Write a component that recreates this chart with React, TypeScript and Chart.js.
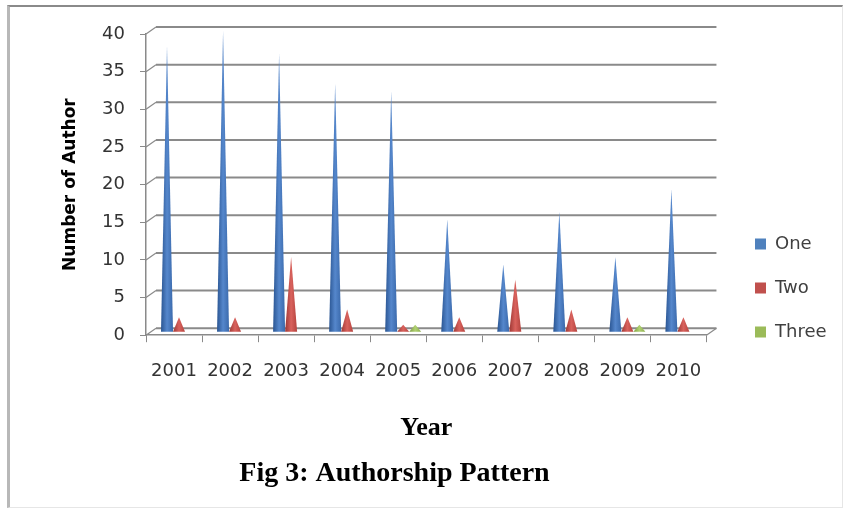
import { useEffect, useRef } from "react";
import { Chart, registerables } from "chart.js";

Chart.register(...registerables);

// ---- data ----
const years = ["2001", "2002", "2003", "2004", "2005", "2006", "2007", "2008", "2009", "2010"];
const seriesNames = ["One", "Two", "Three"];
const oneAuthor = [38, 40, 37, 33, 32, 15, 9, 16, 10, 19];
const twoAuthors = [2, 2, 10, 3, 1, 2, 7, 3, 2, 2];
const threeAuthors = [0, 0, 0, 0, 1, 0, 0, 0, 1, 0];
const yMin = 0;
const yMax = 40;
const yStep = 5;

// ---- styles ----
const seriesColors = ["#4f81bd", "#c0504d", "#9bbb59"];
const coneShades = [
  ["#2a5592", "#5587cc", "#3a69ab"],
  ["#9c3734", "#d9625d", "#b4433e"],
  ["#7a9c3c", "#b0d072", "#8bae4b"],
];
const DEPTH_X = 10;
const DEPTH_Y = 7;
const CONE_DX = 5;
const CONE_DY = 3;

const grid3dPlugin = {
  id: "grid3d",
  beforeDatasetsDraw(chart: any) {
    const { ctx, chartArea } = chart;
    const y = chart.scales.y;
    ctx.save();
    ctx.strokeStyle = "#8a8a8a";
    y.ticks.forEach((t: any) => {
      const py = y.getPixelForValue(t.value);
      ctx.lineWidth = 1.2;
      ctx.beginPath();
      ctx.moveTo(chartArea.left, py);
      ctx.lineTo(chartArea.left + DEPTH_X, py - DEPTH_Y);
      ctx.stroke();
      ctx.lineWidth = 2;
      ctx.beginPath();
      ctx.moveTo(chartArea.left + DEPTH_X, py - DEPTH_Y);
      ctx.lineTo(chartArea.right + DEPTH_X, py - DEPTH_Y);
      ctx.stroke();
    });
    const p0 = y.getPixelForValue(0);
    ctx.lineWidth = 1.2;
    ctx.beginPath();
    ctx.moveTo(chartArea.right, p0);
    ctx.lineTo(chartArea.right + DEPTH_X, p0 - DEPTH_Y);
    ctx.stroke();
    ctx.restore();
  },
};

const conePlugin = {
  id: "cones",
  beforeDatasetDraw(chart: any, args: any) {
    const { ctx } = chart;
    const stops = coneShades[args.index];
    ctx.save();
    args.meta.data.forEach((el: any) => {
      const { x, y, base, width } = el.getProps(["x", "y", "base", "width"], true);
      if (Math.abs(base - y) < 0.5) return;
      const cx = x + CONE_DX;
      const half = width * 0.5;
      const by = base - CONE_DY;
      const ty = y - CONE_DY;
      const g = ctx.createLinearGradient(cx - half, 0, cx + half, 0);
      stops.forEach((c: string, i: number) => g.addColorStop(i / (stops.length - 1), c));
      ctx.fillStyle = g;
      ctx.beginPath();
      ctx.moveTo(cx - half, by);
      ctx.lineTo(cx, ty);
      ctx.lineTo(cx + half, by);
      ctx.closePath();
      ctx.fill();
    });
    ctx.restore();
    return false;
  },
};

const LEGEND_PAD = 26;
const placePlugin = {
  id: "place",
  afterLayout(chart: any) {
    const lg = chart.legend;
    if (lg) {
      const w = lg.width;
      const h = lg.height;
      lg.left = 755 - LEGEND_PAD;
      lg.right = lg.left + w;
      lg.top = 209;
      lg.bottom = lg.top + h;
    }
    const tb = chart.titleBlock;
    if (tb) {
      const w = tb.width;
      tb.left = 394.5 - w / 2;
      tb.right = tb.left + w;
    }
  },
};

export default function App() {
  const ref = useRef<HTMLCanvasElement | null>(null);

  useEffect(() => {
    if (!ref.current) return;
    const values = [oneAuthor, twoAuthors, threeAuthors];
    const chart = new Chart(ref.current, {
      type: "bar",
      data: {
        labels: years,
        datasets: seriesNames.map((name, i) => ({
          label: name,
          data: values[i],
          backgroundColor: seriesColors[i],
          borderWidth: 0,
          categoryPercentage: 0.643,
          barPercentage: 1,
        })),
      },
      plugins: [grid3dPlugin, conePlugin, placePlugin],
      options: {
        responsive: false,
        animation: false,
        events: [],
        layout: { padding: { left: 0, right: 34, top: 34, bottom: 16 } },
        font: { family: "DejaVu Sans" },
        scales: {
          x: {
            grid: {
              drawOnChartArea: false,
              drawTicks: true,
              tickLength: 7,
              color: "#8a8a8a",
              offset: true,
            },
            border: { display: true, color: "#8a8a8a", width: 1.5 },
            ticks: {
              color: "#333",
              font: { family: "DejaVu Sans", size: 18 },
              padding: 18,
              autoSkip: false,
              maxRotation: 0,
            },
            title: {
              display: true,
              text: "Year",
              color: "#000",
              font: { family: "Liberation Serif", size: 26, weight: "bold" },
              padding: { top: 12.8, bottom: 0 },
            },
          },
          y: {
            min: yMin,
            max: yMax,
            afterFit(s: any) {
              s.width = 146;
            },
            grid: {
              drawOnChartArea: false,
              drawTicks: true,
              tickLength: 6,
              color: "#8a8a8a",
            },
            border: { display: true, color: "#8a8a8a", width: 1.5 },
            ticks: {
              stepSize: yStep,
              color: "#333",
              font: { family: "DejaVu Sans", size: 18 },
              padding: 15,
            },
            title: {
              display: true,
              text: "Number of Author",
              color: "#000",
              font: { family: "DejaVu Sans", size: 17, weight: "bold" },
              padding: { top: 60, bottom: 20 },
            },
          },
        },
        plugins: {
          legend: {
            display: true,
            position: "right",
            align: "start",
            fullSize: false,
            labels: {
              boxWidth: 11,
              boxHeight: 11,
              padding: LEGEND_PAD,
              color: "#404040",
              font: { family: "DejaVu Sans", size: 18 },
            },
          },
          title: {
            display: true,
            position: "bottom",
            text: "Fig 3: Authorship Pattern",
            color: "#000",
            font: { family: "Liberation Serif", size: 28, weight: "bold" },
            padding: { top: 13.6, bottom: 6 },
          },
          tooltip: { enabled: false },
        },
      } as any,
    });
    return () => chart.destroy();
  }, []);

  return (
    <div style={{ position: "absolute", left: 0, top: 0, width: 848, height: 513, background: "#fff" }}>
      <canvas ref={ref} width={848} height={513} style={{ display: "block" }} />
      <div
        style={{
          position: "absolute",
          left: 7,
          top: 5,
          width: 836,
          height: 503,
          boxSizing: "border-box",
          borderTop: "2px solid #8a8a8a",
          borderLeft: "3px solid #b8b8b8",
          borderRight: "1px solid #e6e6e6",
          borderBottom: "1px solid #e6e6e6",
          pointerEvents: "none",
        }}
      />
    </div>
  );
}
